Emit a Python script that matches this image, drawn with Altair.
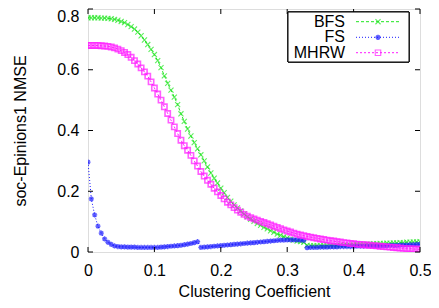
import altair as alt
import pandas as pd

SERIES = ["BFS", "FS", "MHRW"]
COLORS = ["#1ee61e", "#1a1aff", "#ff1aff"]
X = [round(i * 0.005, 3) for i in range(101)]

BFS = [0.771, 0.771, 0.771, 0.771, 0.770, 0.770, 0.769, 0.768, 0.766, 0.763,
       0.759, 0.755, 0.749, 0.742, 0.734, 0.724, 0.712, 0.698, 0.683, 0.667,
       0.650, 0.630, 0.607, 0.580, 0.555, 0.533, 0.510, 0.485, 0.455, 0.430,
       0.405, 0.382, 0.360, 0.340, 0.320, 0.300, 0.280, 0.260, 0.243, 0.227,
       0.210, 0.195, 0.180, 0.167, 0.155, 0.145, 0.135, 0.125, 0.116, 0.108,
       0.101, 0.094, 0.088, 0.081, 0.076, 0.070, 0.065, 0.059, 0.055, 0.050,
       0.046, 0.042, 0.039, 0.036, 0.034, 0.032, 0.022, 0.021, 0.021, 0.021,
       0.021, 0.021, 0.021, 0.021, 0.021, 0.021, 0.022, 0.022, 0.022, 0.022,
       0.023, 0.024, 0.025, 0.025, 0.026, 0.026, 0.027, 0.027, 0.028, 0.028,
       0.029, 0.029, 0.030, 0.030, 0.031, 0.031, 0.032, 0.032, 0.033, 0.033,
       0.034]

FS = [0.296, 0.175, 0.122, 0.085, 0.062, 0.043, 0.032, 0.025, 0.020, 0.018,
      0.017, 0.017, 0.016, 0.016, 0.016, 0.015, 0.015, 0.015, 0.015, 0.015,
      0.015, 0.015, 0.016, 0.017, 0.018, 0.019, 0.020, 0.021, 0.022, 0.024,
      0.026, 0.028, 0.031, 0.034, 0.015, 0.016, 0.017, 0.018, 0.019, 0.020,
      0.021, 0.022, 0.023, 0.024, 0.025, 0.026, 0.027, 0.028, 0.029, 0.030,
      0.031, 0.032, 0.033, 0.034, 0.035, 0.036, 0.037, 0.038, 0.039, 0.039,
      0.040, 0.040, 0.040, 0.040, 0.039, 0.038, 0.014, 0.015, 0.015, 0.015,
      0.016, 0.016, 0.016, 0.017, 0.017, 0.017, 0.018, 0.018, 0.018, 0.018,
      0.018, 0.019, 0.019, 0.019, 0.020, 0.020, 0.020, 0.020, 0.021, 0.021,
      0.021, 0.022, 0.022, 0.022, 0.023, 0.023, 0.023, 0.024, 0.024, 0.025,
      0.025]

MHRW = [0.680, 0.680, 0.680, 0.680, 0.679, 0.678, 0.677, 0.675, 0.672, 0.668,
        0.663, 0.657, 0.650, 0.641, 0.630, 0.619, 0.606, 0.593, 0.579, 0.560,
        0.540, 0.520, 0.500, 0.478, 0.456, 0.434, 0.412, 0.390, 0.368, 0.350,
        0.335, 0.318, 0.300, 0.283, 0.265, 0.250, 0.236, 0.223, 0.210, 0.198,
        0.186, 0.175, 0.164, 0.155, 0.146, 0.138, 0.131, 0.124, 0.118, 0.113,
        0.109, 0.105, 0.101, 0.097, 0.093, 0.089, 0.085, 0.081, 0.077, 0.073,
        0.069, 0.066, 0.062, 0.059, 0.056, 0.054, 0.051, 0.049, 0.047, 0.045,
        0.043, 0.041, 0.039, 0.037, 0.036, 0.034, 0.033, 0.031, 0.030, 0.028,
        0.027, 0.026, 0.025, 0.024, 0.023, 0.022, 0.021, 0.020, 0.019, 0.018,
        0.017, 0.016, 0.015, 0.014, 0.013, 0.012, 0.011, 0.011, 0.010, 0.009,
        0.009]

XTICKS = [0, 0.1, 0.2, 0.3, 0.4, 0.5]
YTICKS = [0, 0.2, 0.4, 0.6, 0.8]

W, H = 332, 243
FONT = "Liberation Sans"

CROSS = "M-1,-1L1,1M-1,1L1,-1"
STAR = "M-1,0L1,0M0,-1L0,1M-0.7,-0.7L0.7,0.7M-0.7,0.7L0.7,-0.7"
SHAPES = [CROSS, STAR, "square"]
SIZES = [26, 28, 30]
STROKES = [1.1, 1.6, 1.1]
DASHES = [[3, 2], [1, 2], [2, 2]]

rows = []
for name, vals in zip(SERIES, [BFS, FS, MHRW]):
    for xv, yv in zip(X, vals):
        rows.append({"x": xv, "y": yv, "series": name})
df = pd.DataFrame(rows)

xscale = alt.Scale(domain=[0, 0.5], nice=False, zero=False)
yscale = alt.Scale(domain=[0, 0.8], nice=False, zero=False)
col = alt.Color("series:N", scale=alt.Scale(domain=SERIES, range=COLORS), legend=None)

LABEL_EXPR = "datum.value == 0 ? '0' : format(datum.value, '.1f')"
xaxis = alt.Axis(values=XTICKS, ticks=False, tickSize=0, domain=False, grid=False,
                 labelExpr=LABEL_EXPR, labelFlush=False,
                 labelPadding=10, labelFontSize=16, labelFont=FONT, labelColor="#000",
                 title="Clustering Coefficient", titleFontSize=16, titleFont=FONT,
                 titleFontWeight="normal", titleColor="#000", titleY=31, titleBaseline="top")
yaxis = alt.Axis(values=YTICKS, ticks=False, tickSize=0, domain=False, grid=False,
                 labelExpr=LABEL_EXPR, labelFlush=False,
                 labelOffset={"condition": {"test": "datum.value >= 0.79", "value": 7}, "value": 0},
                 labelPadding=9, labelFontSize=16, labelFont=FONT, labelColor="#000",
                 title="soc-Epinions1 NMSE", titleFontSize=16, titleFont=FONT,
                 titleFontWeight="normal", titleColor="#000", titleX=-60, titleBaseline="bottom")

base = alt.Chart(df)
lines = base.mark_line(strokeWidth=1, clip=True).encode(
    x=alt.X("x:Q", scale=xscale, axis=xaxis),
    y=alt.Y("y:Q", scale=yscale, axis=yaxis),
    color=col,
    strokeDash=alt.StrokeDash("series:N", scale=alt.Scale(domain=SERIES, range=DASHES), legend=None),
    detail="series:N",
)
points = base.mark_point(filled=False, clip=True).encode(
    x=alt.X("x:Q", scale=xscale),
    y=alt.Y("y:Q", scale=yscale),
    color=col,
    shape=alt.Shape("series:N", scale=alt.Scale(domain=SERIES, range=SHAPES), legend=None),
    size=alt.Size("series:N", scale=alt.Scale(domain=SERIES, range=SIZES), legend=None),
    strokeWidth=alt.StrokeWidth("series:N", scale=alt.Scale(domain=SERIES, range=STROKES), legend=None),
)

xt = pd.DataFrame({"x": XTICKS})
yt = pd.DataFrame({"y": YTICKS})
tick_style = dict(color="#000", strokeWidth=1)
bt = alt.Chart(xt).mark_rule(**tick_style).encode(x=alt.X("x:Q", scale=xscale), y=alt.value(H), y2=alt.value(H - 5))
tt = alt.Chart(xt).mark_rule(**tick_style).encode(x=alt.X("x:Q", scale=xscale), y=alt.value(0), y2=alt.value(5))
lt = alt.Chart(yt).mark_rule(**tick_style).encode(y=alt.Y("y:Q", scale=yscale), x=alt.value(0), x2=alt.value(5))
rt = alt.Chart(yt).mark_rule(**tick_style).encode(y=alt.Y("y:Q", scale=yscale), x=alt.value(W), x2=alt.value(W - 5))

# gnuplot-style legend: label on the left, line sample on the right
leg_df = pd.DataFrame({"series": SERIES})
box = alt.Chart(leg_df).mark_rect(fill="white", stroke="#000", strokeWidth=1).encode(
    x=alt.value(200), x2=alt.value(321), y=alt.value(3), y2=alt.value(53))
ROW_Y = [12.7, 28.3, 43.7]
leg_layers = [box]
for i, name in enumerate(SERIES):
    d = pd.DataFrame({"t": [name]})
    leg_layers.append(alt.Chart(d).mark_text(align="right", baseline="middle", fontSize=16,
                                             font=FONT, color="#000").encode(
        x=alt.value(257), y=alt.value(ROW_Y[i]), text="t:N"))
    leg_layers.append(alt.Chart(d).mark_rule(color=COLORS[i], strokeWidth=1, strokeDash=DASHES[i]).encode(
        x=alt.value(268), x2=alt.value(311), y=alt.value(ROW_Y[i])))
    leg_layers.append(alt.Chart(d).mark_point(filled=False, strokeWidth=STROKES[i], color=COLORS[i],
                                              shape=SHAPES[i], size=SIZES[i]).encode(
        x=alt.value(290), y=alt.value(ROW_Y[i])))

chart = alt.layer(lines, points, bt, tt, lt, rt, *leg_layers).properties(
    width=W, height=H,
    autosize=alt.AutoSizeParams(type="none"),
    padding={"left": 80, "top": 1, "right": 11, "bottom": 48},
).configure_view(stroke="#000", strokeWidth=1.5).configure(background="white")

chart.save("out.html", embed_options={"renderer": "svg", "actions": False})
